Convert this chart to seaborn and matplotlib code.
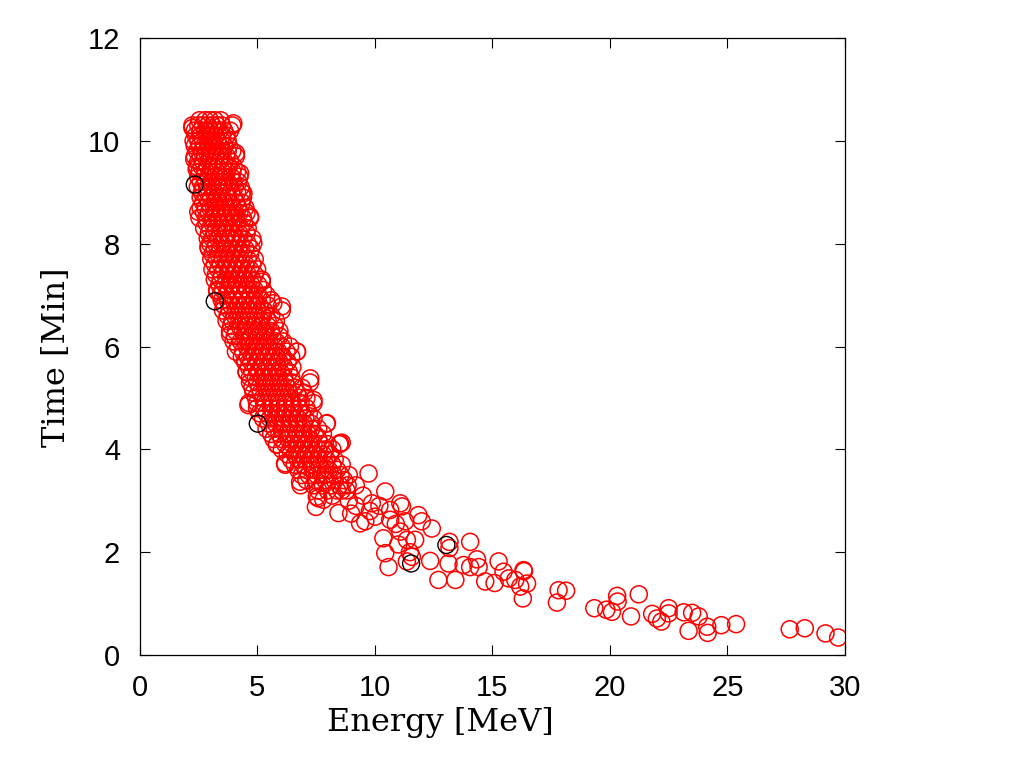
import matplotlib
matplotlib.use("Agg")
import matplotlib.pyplot as plt
import seaborn as sns
import pandas as pd

# ---- data (Energy [MeV], Time [Min]) ----
# dense band, rows of equal time: (time, [energies])
band_upper = [
    (10.40, [2.55, 2.8, 3.0, 3.2, 3.45]),
    (10.30, [2.25, 2.5, 2.7, 2.9, 3.1, 3.3, 3.5, 3.95]),
    (10.10, [2.4, 2.6, 2.85, 3.05, 3.25, 3.5, 3.7]),
    (9.90, [2.35, 2.55, 2.75, 2.95, 3.15, 3.4, 3.6, 3.8]),
    (9.70, [2.35, 2.6, 2.8, 3.0, 3.25, 3.45, 3.7, 4.1]),
    (9.50, [2.45, 2.65, 2.9, 3.1, 3.3, 3.55, 3.8, 4.0]),
    (9.30, [2.5, 2.75, 2.95, 3.2, 3.4, 3.65, 3.9, 4.25]),
    (9.10, [2.48, 2.7, 2.9, 3.1, 3.35, 3.55, 3.8, 4.05, 4.3]),
    (8.90, [2.6, 2.85, 3.05, 3.3, 3.5, 3.75, 4.0, 4.4]),
    (8.70, [2.6, 2.8, 3.0, 3.25, 3.45, 3.7, 3.95, 4.2, 4.5]),
    (8.50, [2.55, 2.85, 3.1, 3.35, 3.6, 3.85, 4.1, 4.4, 4.7]),
    (8.30, [2.75, 3.0, 3.25, 3.5, 3.75, 4.0, 4.3, 4.6]),
    (8.10, [2.9, 3.1, 3.35, 3.6, 3.85, 4.1, 4.4, 4.8]),
    (7.90, [2.95, 3.2, 3.45, 3.7, 3.95, 4.2, 4.5, 4.75]),
]
band_upper_b = [
    (10.20, [2.35, 2.6, 2.8, 3.0, 3.2, 3.4, 3.6, 3.85]),
    (10.00, [2.3, 2.5, 2.7, 2.9, 3.1, 3.3, 3.5, 3.75]),
    (9.80, [2.45, 2.65, 2.85, 3.1, 3.3, 3.55, 3.75, 3.95]),
    (9.60, [2.5, 2.7, 2.95, 3.15, 3.4, 3.6, 3.85]),
    (9.40, [2.55, 2.8, 3.0, 3.25, 3.5, 3.7, 3.95, 4.15]),
    (9.20, [2.6, 2.8, 3.05, 3.3, 3.5, 3.75, 4.0, 4.2]),
    (9.00, [2.65, 2.9, 3.15, 3.4, 3.65, 3.9, 4.15, 4.35]),
    (8.80, [2.7, 2.95, 3.2, 3.4, 3.6, 3.85, 4.1, 4.35]),
    (8.60, [2.75, 2.95, 3.2, 3.45, 3.7, 3.95, 4.25, 4.55]),
    (8.40, [2.85, 3.1, 3.35, 3.6, 3.9, 4.15, 4.45]),
    (8.20, [2.95, 3.2, 3.45, 3.7, 3.95, 4.25, 4.55]),
    (8.00, [3.0, 3.25, 3.5, 3.75, 4.0, 4.3, 4.6]),
]
band_middle = [
    (7.70, [3.05, 3.3, 3.55, 3.8, 4.05, 4.3, 4.6, 4.9]),
    (7.50, [3.1, 3.35, 3.6, 3.85, 4.1, 4.4, 4.7, 5.0]),
    (7.30, [3.2, 3.45, 3.7, 3.95, 4.2, 4.5, 4.8, 5.2]),
    (7.10, [3.3, 3.55, 3.8, 4.05, 4.3, 4.6, 4.9, 5.25]),
    (6.90, [3.5, 3.75, 4.0, 4.3, 4.6, 4.9, 5.2, 5.6]),
    (6.70, [3.55, 3.85, 4.1, 4.4, 4.7, 5.0, 5.3, 6.05]),
    (6.50, [3.7, 3.95, 4.25, 4.55, 4.85, 5.15, 5.45, 5.8]),
    (6.30, [3.85, 4.1, 4.4, 4.7, 5.0, 5.3, 5.6, 5.95]),
    (6.10, [4.0, 4.3, 4.6, 4.9, 5.2, 5.5, 5.8, 6.1]),
    (5.90, [4.1, 4.4, 4.7, 5.0, 5.3, 5.6, 5.9, 6.25, 6.7]),
    (5.70, [4.5, 4.75, 5.05, 5.35, 5.65, 5.95, 6.3]),
    (5.50, [4.55, 4.8, 5.1, 5.4, 5.7, 6.0, 6.35]),
]
band_middle_b = [
    (7.80, [3.1, 3.35, 3.6, 3.85, 4.1, 4.4, 4.7]),
    (7.60, [3.2, 3.45, 3.7, 3.95, 4.25, 4.5, 4.8]),
    (7.40, [3.25, 3.5, 3.8, 4.05, 4.3, 4.6, 4.9]),
    (7.20, [3.4, 3.65, 3.9, 4.15, 4.45, 4.75, 5.05]),
    (7.00, [3.45, 3.7, 3.95, 4.2, 4.45, 4.75, 5.05, 5.4]),
    (6.80, [3.6, 3.9, 4.2, 4.5, 4.8, 5.1, 5.45]),
    (6.60, [3.75, 4.05, 4.35, 4.65, 4.95, 5.25, 5.6]),
    (6.40, [3.9, 4.25, 4.55, 4.85, 5.15, 5.45, 5.75]),
    (6.20, [4.05, 4.45, 4.75, 5.05, 5.35, 5.65, 5.95]),
    (6.00, [4.2, 4.55, 4.85, 5.15, 5.45, 5.75, 6.05, 6.4]),
    (5.80, [4.35, 4.6, 4.9, 5.2, 5.5, 5.8, 6.1, 6.45]),
    (5.60, [4.65, 4.95, 5.25, 5.55, 5.85, 6.15, 6.5]),
]
band_lower = [
    (5.30, [4.7, 5.0, 5.3, 5.6, 5.9, 6.2, 6.5, 7.25]),
    (5.10, [4.85, 5.15, 5.45, 5.75, 6.05, 6.35, 6.7, 7.0]),
    (4.90, [4.65, 5.0, 5.3, 5.6, 5.9, 6.2, 6.5, 6.85, 7.4]),
    (4.70, [5.1, 5.4, 5.7, 6.0, 6.3, 6.6, 6.9, 7.2]),
    (4.50, [5.5, 5.8, 6.1, 6.4, 6.7, 7.0, 7.3, 7.95]),
    (4.30, [5.6, 5.95, 6.25, 6.55, 6.85, 7.15, 7.45, 7.8]),
    (4.10, [5.85, 6.2, 6.5, 6.8, 7.1, 7.4, 7.7, 8.0, 8.5]),
    (3.90, [6.3, 6.6, 6.9, 7.2, 7.5, 7.8, 8.1]),
    (3.70, [6.2, 6.6, 6.95, 7.3, 7.6, 7.9, 8.2, 8.6]),
    (3.50, [6.9, 7.2, 7.55, 7.9, 8.25, 8.55, 8.9]),
    (3.30, [6.85, 7.4, 7.8, 8.15, 8.5, 8.85, 9.2]),
]
band_lower_b = [
    (5.40, [4.7, 4.95, 5.25, 5.55, 5.85, 6.15, 6.45]),
    (5.20, [4.8, 5.1, 5.4, 5.7, 6.0, 6.3, 6.6, 6.9]),
    (5.00, [4.95, 5.25, 5.55, 5.85, 6.15, 6.45, 6.8, 7.1]),
    (4.80, [5.0, 5.3, 5.6, 5.9, 6.2, 6.5, 6.8, 7.1]),
    (4.60, [5.25, 5.55, 5.85, 6.15, 6.45, 6.75, 7.05, 7.4]),
    (4.40, [5.4, 5.75, 6.05, 6.35, 6.65, 6.95, 7.3, 7.6]),
    (4.20, [5.7, 6.05, 6.35, 6.65, 6.95, 7.25, 7.6]),
    (4.00, [6.05, 6.4, 6.7, 7.0, 7.3, 7.6, 7.9, 8.2]),
    (3.80, [6.45, 6.75, 7.05, 7.35, 7.65, 7.95, 8.3]),
    (3.60, [6.75, 7.1, 7.4, 7.75, 8.05, 8.4]),
    (3.40, [7.1, 7.5, 7.9, 8.3, 8.7]),
    (3.20, [7.6, 8.0, 8.4, 8.8]),
]
# edge points of the band
edge_energy = [2.25, 2.33, 2.43, 2.5, 2.93, 3.31, 3.99, 4.1, 4.28, 4.42, 4.7, 4.84,
               5.2, 5.69, 3.85, 4.49, 4.56, 4.63, 5.84, 6.19, 6.83, 7.54, 6.05,
               6.69, 7.26, 7.4, 7.97, 8.53]
edge_time = [10.25, 9.64, 9.45, 8.62, 7.94, 7.07, 10.34, 9.76, 9.37, 8.98, 8.53, 8.01,
             7.26, 6.84, 6.23, 5.71, 5.51, 4.86, 4.09, 3.73, 3.37, 3.08, 6.78,
             5.9, 5.38, 4.96, 4.51, 4.12]
# sparse region and tail
tail_energy = [7.82, 7.6, 7.5, 8.46, 8.2, 8.6, 8.9, 9.38, 9.88, 10.02, 10.66, 9.2,
               9.5, 9.0, 9.74, 8.6, 10.45, 11.09, 11.16, 11.86, 12.43, 10.66, 10.37,
               10.45, 10.59, 11.37, 11.58, 11.72, 11.37, 11.09, 13.18, 13.18,
               14.06, 12.36, 12.71, 13.14, 13.43, 13.78, 14.35, 14.42, 14.06, 14.7,
               15.27, 15.48, 16.33, 15.7, 15.98, 16.48, 16.19, 16.3, 15.1, 10.9,
               11.3, 12.0, 9.8, 10.2, 9.6, 11.0, 11.5,
               16.35, 17.82, 18.14, 17.75, 19.34, 19.85, 20.09, 20.31, 20.33, 21.23,
               20.9, 21.8, 22.0, 22.19, 22.5, 22.5, 23.14, 23.5, 23.78, 23.35, 24.14,
               24.16, 24.74, 25.37, 27.65, 28.29, 29.17, 29.71]
tail_time = [3.02, 3.05, 2.88, 2.76, 3.1, 3.2, 3.0, 2.56, 2.95, 2.69, 2.82, 2.9,
             3.1, 2.75, 3.53, 4.13, 3.18, 2.95, 2.89, 2.72, 2.46, 2.63, 2.27,
             1.98, 1.71, 1.82, 1.91, 2.24, 2.24, 2.40, 2.20, 2.08,
             2.20, 1.83, 1.46, 1.78, 1.46, 1.75, 1.86, 1.71, 1.71, 1.43,
             1.82, 1.62, 1.65, 1.49, 1.46, 1.39, 1.33, 1.1, 1.4, 2.55,
             2.6, 2.6, 2.8, 2.9, 2.6, 2.15, 2.0,
             1.63, 1.26, 1.25, 1.02, 0.91, 0.88, 0.84, 1.15, 1.04, 1.18,
             0.75, 0.80, 0.71, 0.65, 0.91, 0.81, 0.83, 0.82, 0.75, 0.47, 0.55,
             0.43, 0.58, 0.60, 0.50, 0.52, 0.42, 0.34]
# second (black) series, mostly hidden
black_energy = [2.35, 3.2, 5.03, 13.05, 11.55]
black_time = [9.15, 6.88, 4.5, 2.14, 1.78]

x_ticks = [0, 5, 10, 15, 20, 25, 30]
y_ticks = [0, 2, 4, 6, 8, 10, 12]

# ---- assemble ----
red_e, red_t = [], []
for rows in (band_upper, band_upper_b, band_middle, band_middle_b,
             band_lower, band_lower_b):
    for t, es in rows:
        red_e.extend(es)
        red_t.extend([t] * len(es))
red_e += edge_energy + tail_energy
red_t += edge_time + tail_time
df_red = pd.DataFrame({"Energy": red_e, "Time": red_t})
df_black = pd.DataFrame({"Energy": black_energy, "Time": black_time})

fig = plt.figure(figsize=(10.24, 7.68), dpi=100)
ax = fig.add_axes([139.5 / 1024, 113 / 768, 705.5 / 1024, 617 / 768])

sns.scatterplot(data=df_red, x="Energy", y="Time", ax=ax, marker="o", s=150,
                facecolors="none", edgecolor="#ff0000", linewidth=1.1, zorder=3)
sns.scatterplot(data=df_black, x="Energy", y="Time", ax=ax, marker="o", s=150,
                facecolors="none", edgecolor="#000000", linewidth=1.0, zorder=4)

ax.set_xlim(0, 30)
ax.set_ylim(0, 12)
ax.set_xticks(x_ticks)
ax.set_yticks(y_ticks)
tick_font = {"family": "Liberation Sans", "size": 21}
ax.set_xticklabels([str(v) for v in x_ticks], fontdict=tick_font)
ax.set_yticklabels([str(v) for v in y_ticks], fontdict=tick_font)
ax.tick_params(direction="in", length=7, width=0.8, top=True, right=True,
               pad=14)
for sp in ax.spines.values():
    sp.set_linewidth(0.9)
    sp.set_color("black")

label_font = {"family": "DejaVu Serif", "size": 23}
ax.set_xlabel("Energy [MeV]", fontdict=label_font)
ax.set_ylabel("Time [Min]", fontdict=label_font)
ax.xaxis.set_label_coords(0.426, -0.084)
ax.yaxis.set_label_coords(-0.096, 0.483)

fig.savefig("out.png", dpi=100)
